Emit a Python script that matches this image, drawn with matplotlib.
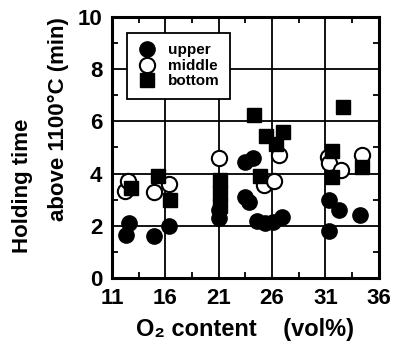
import matplotlib
matplotlib.use("Agg")
import matplotlib.pyplot as plt
from matplotlib.ticker import MultipleLocator, FixedLocator

plt.rcParams['font.family'] = ['Liberation Sans', 'DejaVu Sans']
plt.rcParams['font.weight'] = 'bold'

# O2 content (vol%) / holding time (min)
upper_x = [12.6, 12.3, 14.9, 16.3, 21.0, 21.0, 23.5, 24.2, 23.5, 23.8, 24.6, 25.3, 26.1, 26.9, 31.3, 32.3, 31.3, 34.2]
upper_y = [2.1, 1.65, 1.6, 2.0, 2.3, 2.6, 4.45, 4.6, 3.1, 2.9, 2.2, 2.1, 2.15, 2.35, 3.0, 2.6, 1.8, 2.4]

middle_x = [12.2, 12.5, 14.9, 16.3, 21.0, 25.2, 26.2, 26.6, 31.2, 31.3, 32.5, 34.4]
middle_y = [3.35, 3.7, 3.3, 3.6, 4.6, 3.55, 3.7, 4.7, 4.65, 4.4, 4.15, 4.7]

bottom_x = [12.8, 15.3, 16.4, 21.1, 21.1, 21.1, 24.3, 25.4, 27.0, 26.4, 24.9, 31.6, 31.6, 32.6, 34.4]
bottom_y = [3.45, 3.9, 3.0, 3.75, 3.25, 2.75, 6.25, 5.45, 5.6, 5.15, 3.9, 4.85, 3.85, 6.55, 4.25]

x_ticks = [11, 16, 21, 26, 31, 36]
y_ticks = [0, 2, 4, 6, 8, 10]

fig = plt.figure(figsize=(3.93, 3.47), dpi=100)
ax = fig.add_axes([0.285, 0.199, 0.679, 0.752])

ax.grid(True, which='major', color='black', linewidth=1.3, zorder=0)
ax.set_axisbelow(True)

ax.plot(upper_x, upper_y, 'o', color='black', markersize=11, label='upper', zorder=3)
ax.plot(middle_x, middle_y, 'o', markerfacecolor='white', markeredgecolor='black',
        markeredgewidth=1.5, markersize=11, label='middle', zorder=3)
ax.plot(bottom_x, bottom_y, 's', color='black', markersize=10.5, label='bottom', zorder=3)

ax.set_xlim(11, 36)
ax.set_ylim(0, 10)
ax.xaxis.set_major_locator(FixedLocator(x_ticks))
ax.xaxis.set_minor_locator(FixedLocator([13.5, 18.5, 23.5, 28.5, 33.5]))
ax.yaxis.set_major_locator(FixedLocator(y_ticks))
ax.yaxis.set_minor_locator(MultipleLocator(1))
ax.tick_params(which='both', direction='in', top=True, right=True, width=1.3, labelsize=16)
ax.tick_params(which='major', length=0, pad=7)
ax.tick_params(which='minor', length=4)
for s in ax.spines.values():
    s.set_linewidth(2.2)

ax.set_xlabel('O\u2082 content    (vol%)', fontsize=17, fontweight='bold', labelpad=7)
fig.text(0.056, 0.464, 'Holding time', rotation=90, ha='center', va='center',
         fontsize=16, fontweight='bold')
fig.text(0.150, 0.657, 'above 1100\u00b0C (min)', rotation=90, ha='center', va='center',
         fontsize=16, fontweight='bold')

leg = ax.legend(loc='upper left', bbox_to_anchor=(0.055, 0.94), fancybox=False,
                edgecolor='black', framealpha=1, fontsize=11, handletextpad=0.7,
                labelspacing=0.1, borderpad=0.7, handlelength=1.3, borderaxespad=0)
leg.get_frame().set_linewidth(1.3)
for t in leg.get_texts():
    t.set_fontweight('bold')

fig.savefig('out.png', dpi=100)
